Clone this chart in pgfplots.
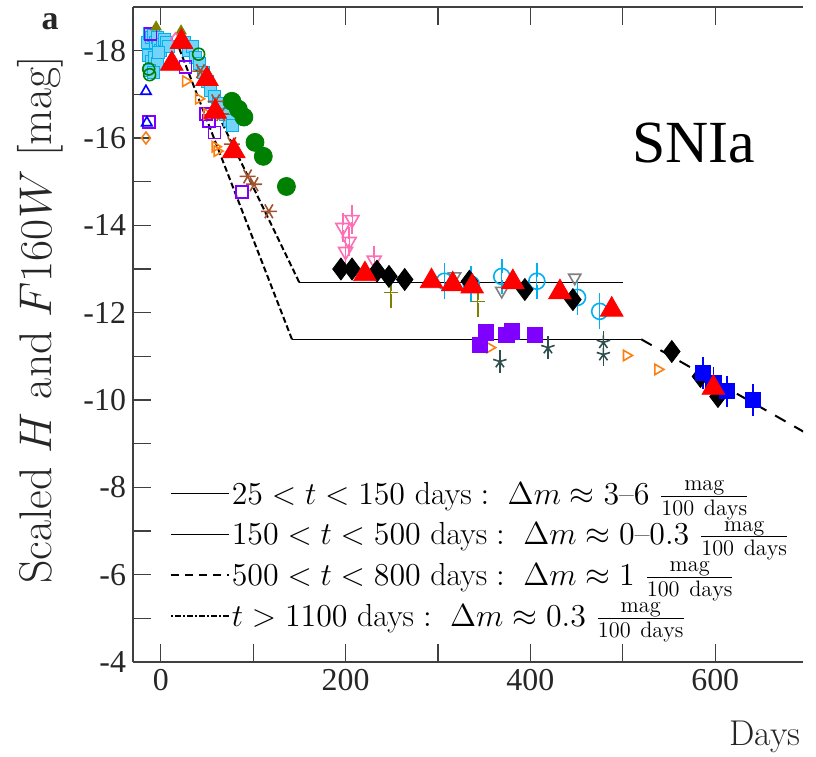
\documentclass[border=0pt]{standalone}
\usepackage{fix-cm}
\usepackage{pgfplots}
\pgfplotsset{compat=1.18}
\usepackage{fontspec}
\newfontfamily\tnr{Liberation Serif}
\definecolor{cgreen}{RGB}{0,128,0}
\definecolor{cred}{RGB}{255,0,0}
\definecolor{cblue}{RGB}{0,0,255}
\definecolor{cpurple}{RGB}{127,0,255}
\definecolor{cslate}{RGB}{47,79,79}
\definecolor{corange}{RGB}{255,127,14}
\definecolor{ccyan}{RGB}{0,176,240}
\definecolor{cgrey}{RGB}{128,128,128}
\definecolor{cpink}{RGB}{255,110,180}
\definecolor{colive}{RGB}{128,128,0}
\definecolor{cbrown}{RGB}{160,82,45}
\begin{document}
\begin{tikzpicture}
\path[use as bounding box] (-66.5bp,-47.5bp) rectangle (341.5bp,331bp);
\begin{axis}[
 at={(0,0)}, anchor=south west,
 scale only axis, width=335bp, height=327.5bp,
 xmin=-30, xmax=695, ymin=-19, ymax=-4, y dir=reverse,
 axis x line*=box, axis y line*=left,
 axis line style={black!75, line width=0.8bp},
 xtick={0,200,400,600}, minor xtick={100,300,500},
 xticklabels={0,200,400,600},
 ytick={-18,-16,-14,-12,-10,-8,-6,-4}, minor ytick={-17,-15,-13,-11,-9,-7,-5},
 yticklabels={-18,-16,-14,-12,-10,-8,-6,-4},
 tick style={black!75, line width=0.6bp},
 major tick length=9bp, minor tick length=9bp,
 ticklabel style={font=\tnr\fontsize{16}{18}\selectfont, text=black!85},
 xlabel={Days},
 xlabel style={at={(axis description cs:0.943,0)}, yshift=-37.5bp, anchor=center, font=\fontsize{18}{21}\selectfont, text=black!85},
 ylabel={Scaled $H$ and $F160W$ $[\mathrm{mag}]$},
 ylabel style={at={(axis description cs:-0.139,0.522)}, anchor=center, font=\fontsize{23}{26}\selectfont, text=black!85},
 legend style={draw=none, fill=none, at={(axis description cs:0.055,0.046)}, anchor=south west,
   font=\fontsize{16}{19}\selectfont, row sep=5bp, inner sep=0pt, nodes={inner sep=1bp}},
 legend cell align=left,
 legend image code/.code={\draw[#1] (0bp,0bp) -- (29bp,0bp);},
]
\addlegendimage{black, line width=0.8bp}
\addlegendentry{$25<t<150$ days$\;:\;$\ $\Delta m\approx 3$--$6$ $\frac{\mathrm{mag}}{\mathrm{100\ days}}$}
\addlegendimage{black, line width=0.8bp}
\addlegendentry{$150<t<500$ days$\;:\;$\ $\Delta m\approx 0$--$0.3$ $\frac{\mathrm{mag}}{\mathrm{100\ days}}$}
\addlegendimage{black, line width=0.8bp, dash pattern=on 4bp off 3bp}
\addlegendentry{$500<t<800$ days$\;:\;$\ $\Delta m\approx 1$ $\frac{\mathrm{mag}}{\mathrm{100\ days}}$}
\addlegendimage{black, line width=0.6bp, dash pattern=on 1bp off 1bp on 3bp off 1bp}
\addlegendentry{$t>1100$ days$\;:\;$\ $\Delta m\approx 0.3$ $\frac{\mathrm{mag}}{\mathrm{100\ days}}$}

% cyan cluster
\addplot[forget plot, only marks, mark=square*, mark size=3bp, draw=ccyan, fill=ccyan!55] coordinates {
(-14,-18.2) (-12,-18.4) (-10,-18.3) (-8,-18.35) (-6,-18.2) (-4,-18.3) (-2,-18.1) (0,-18.0)
(2,-18.15) (4,-18.25) (6,-18.2) (8,-18.1) (-13,-17.9) (-10,-17.75) (-7,-17.85) (-4,-17.7)
(-12,-17.55) (-8,-17.5) (-3,-17.95) (26,-18.2) (30,-18.0) (34,-18.1) (38,-17.85) (42,-17.7)
(46,-17.5) (50,-17.3) (54,-17.1) (58,-16.95) (62,-16.8) (66,-16.7) (70,-16.55) (74,-16.4) (78,-16.3)};

% model lines
\addplot[forget plot, black, line width=1bp, dash pattern=on 3bp off 1.5bp] coordinates {(24,-18.2) (150,-12.69)};
\addplot[forget plot, black, line width=0.8bp] coordinates {(150,-12.69) (500,-12.69)};
\addplot[forget plot, black, line width=1bp, dash pattern=on 3bp off 1.5bp] coordinates {(20,-18.05) (142,-11.39)};
\addplot[forget plot, black, line width=0.8bp] coordinates {(142,-11.39) (520,-11.39)};
\addplot[forget plot, black, line width=1bp, dash pattern=on 6bp off 5bp] coordinates {(520,-11.39) (720,-8.98)};

% green filled circles
\addplot[forget plot, only marks, mark=*, mark size=4.5bp, draw=cgreen, fill=cgreen] coordinates {
(77,-16.84) (84,-16.66) (90,-16.48) (102,-15.90) (111,-15.58) (136,-14.89)};
% green open circles
\addplot[forget plot, only marks, mark=o, mark size=3bp, cgreen, thick] coordinates {
(-13,-17.58) (-12,-17.45) (41,-17.92)};
% purple open squares
\addplot[forget plot, only marks, mark=square, mark size=3bp, cpurple, thick] coordinates {
(-11,-18.38) (-13,-16.36) (27,-17.62) (49,-16.55) (52,-16.39) (58,-16.13) (88,-14.76)};
% blue open triangles
\addplot[forget plot, only marks, mark=triangle, mark size=3bp, cblue, thick] coordinates {
(-16,-17.07) (-15,-16.35)};
% orange open markers
\addplot[forget plot, only marks, mark=triangle, mark size=3bp, corange, thick, mark options={rotate=-90}] coordinates {
(27,-17.3) (41,-16.9) (50,-16.55) (59,-15.8) (61,-15.7) (356,-11.2) (504,-11.02) (538,-10.7)};
\addplot[forget plot, only marks, mark=diamond, mark size=3bp, corange!80!brown, thick] coordinates {(-16,-16.0)};
% olive
\addplot[forget plot, only marks, mark=triangle*, mark size=3bp, colive] coordinates {(-5,-18.54) (22,-18.45)};
\addplot[forget plot, only marks, mark=-, mark size=3.5bp, colive, thick,
  error bars/.cd, y dir=both, y explicit, error mark options={colive, thick, mark size=3.5bp}] coordinates {
(249,-12.46) +- (0,0.2) (343,-12.26) +- (0,0.2)};
% pink
\addplot[forget plot, only marks, mark=diamond, mark size=3bp, cpink, thick] coordinates {(16,-18.27) (25,-18.2)};
\addplot[forget plot, only marks, mark=triangle, mark size=4bp, cpink, thick, mark options={rotate=180},
  error bars/.cd, y dir=both, y explicit, error mark options={cpink, thick, mark size=3bp}] coordinates {
(197,-13.95) +- (0,0.2) (204,-13.63) +- (0,0.2) (200,-13.4) +- (0,0.2) (207,-14.13) +- (0,0.2) (231,-13.2) +- (0,0.2)};
% brown asterisks
\addplot[forget plot, only marks, mark=asterisk, mark size=4bp, cbrown, thick, mark options={rotate=90}] coordinates {
(43,-17.53) (59.5,-16.84) (65,-16.55) (77,-15.86) (94,-15.12) (101,-14.94) (117,-14.32)};
% grey open down triangles
\addplot[forget plot, only marks, mark=triangle, mark size=3.5bp, cgrey, thick, mark options={rotate=180}] coordinates {
(318,-12.83) (369,-12.5) (448,-12.8)};
% light blue open circles
\addplot[forget plot, only marks, mark=o, mark size=4bp, ccyan, thick,
  error bars/.cd, y dir=both, y explicit, error mark options={ccyan, thick, mark size=3.5bp}] coordinates {
(307,-12.72) +- (0,0.25) (336,-12.65) +- (0,0.25) (369,-12.83) +- (0,0.25) (407,-12.72) +- (0,0.25) (451,-12.35) +- (0,0.25) (475,-12.03) +- (0,0.25)};
% purple filled squares
\addplot[forget plot, only marks, mark=square*, mark size=3.8bp, draw=cpurple, fill=cpurple] coordinates {
(345,-11.27) (352,-11.55) (374,-11.5) (380,-11.57) (405,-11.5)};
% dark slate stars
\addplot[forget plot, only marks, mark=star, mark size=3.5bp, cslate, thick,
  error bars/.cd, y dir=both, y explicit, error mark options={cslate, thick, mark size=3bp}] coordinates {
(367,-10.88) +- (0,0.12) (419,-11.2) +- (0,0.12) (479,-11.32) +- (0,0.12) (479,-11.04) +- (0,0.12)};
% black diamonds
\addplot[forget plot, only marks, mark=diamond*, mark size=5.5bp, black] coordinates {
(195,-13.0) (207,-13.0) (234,-12.95) (247,-12.83) (264,-12.76) (334,-12.72) (394,-12.53) (446,-12.3)
(553,-11.11) (584,-10.54) (603,-10.08)};
% blue squares with error bars
\addplot[forget plot, only marks, mark=square*, mark size=3.8bp, draw=cblue, fill=cblue,
  error bars/.cd, y dir=both, y explicit, error mark options={cblue, thick, mark size=3.5bp}] coordinates {
(587,-10.62) +- (0,0.2) (598,-10.4) +- (0,0.2) (613,-10.2) +- (0,0.2) (641,-10.0) +- (0,0.2)};
% red triangles
\addplot[forget plot, only marks, mark=triangle*, mark size=6.5bp, draw=cred, fill=cred] coordinates {
(12,-17.7) (22.5,-18.2) (50,-17.35) (59,-16.6) (79,-15.7) (221,-12.88) (293,-12.72) (316,-12.65)
(337,-12.6) (381,-12.7) (432,-12.47) (488,-12.07) (598,-10.28)};
\end{axis}
\node[font=\tnr\bfseries\fontsize{17}{20}\selectfont, text=black!85] at (-41.5bp,320bp) {a};
\node[font=\tnr\fontsize{30}{34}\selectfont] at (280.5bp,259.5bp) {SNIa};
\end{tikzpicture}
\end{document}
